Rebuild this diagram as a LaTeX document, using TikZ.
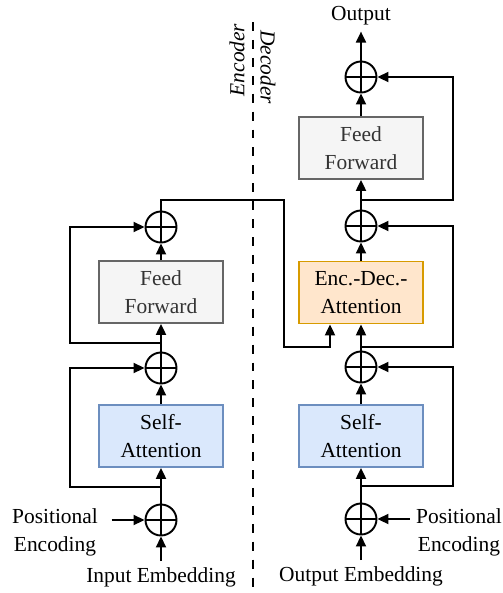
\documentclass[tikz,border=0pt]{standalone}
\usepackage{fontspec}
\setmainfont{Liberation Serif}
\usetikzlibrary{arrows.meta}

\definecolor{ffgray}{HTML}{F5F5F5}
\definecolor{ffedge}{HTML}{666666}
\definecolor{fftext}{HTML}{333333}
\definecolor{safill}{HTML}{DAE8FC}
\definecolor{saedge}{HTML}{6C8EBF}
\definecolor{edfill}{HTML}{FFE6CC}
\definecolor{ededge}{HTML}{D79B00}

\begin{document}
\begin{tikzpicture}[x=0.02cm, y=-0.02cm,
  every node/.style={font=\fontsize{12.2}{16}\selectfont},
  block/.style={draw, line width=1pt, minimum width=2.48cm, minimum height=1.24cm, align=center},
  ff/.style={block, fill=ffgray, draw=ffedge, text=fftext},
  sa/.style={block, fill=safill, draw=saedge},
  ed/.style={block, fill=edfill, draw=ededge},
  addop/.style={circle, draw, line width=1.1pt, minimum size=0.62cm, inner sep=0pt,
    path picture={\draw[line width=1pt] (path picture bounding box.north) -- (path picture bounding box.south)
      (path picture bounding box.west) -- (path picture bounding box.east);}},
  arr/.style={-{Triangle[length=0.22cm,width=0.2cm]}, line width=1.1pt},
  side/.style={font=\fontsize{12.2}{16}\selectfont\itshape}]
\useasboundingbox (0,0) rectangle (503,593);

% encoder
\node (inE) at (161,577) {Input Embedding};
\node[addop] (addE0) at (161,520) {};
\node[align=center] (posE) at (55,532) {Positional\\Encoding};
\node[sa] (saE) at (161,436) {Self-\\Attention};
\node[addop] (addE1) at (161,368) {};
\node[ff] (ffE) at (161,292) {Feed\\Forward};
\node[addop] (addE2) at (161,227) {};

% decoder
\node (outE) at (361,576) {Output Embedding};
\node[addop] (addD0) at (361,519) {};
\node[align=center] (posD) at (459,532) {Positional\\Encoding};
\node[sa] (saD) at (361,436) {Self-\\Attention};
\node[addop] (addD1) at (361,367) {};
\node[ed] (edD) at (361,292.5) {Enc.-Dec.-\\Attention};
\node[addop] (addD2) at (361,226) {};
\node[ff] (ffD) at (361,148) {Feed\\Forward};
\node[addop] (addD3) at (361,77) {};
\node (out) at (361,16) {Output};

% split
\coordinate (divTop) at (253,22);
\coordinate (divBot) at (253,593);
\draw[line width=1.7pt, dash pattern=on 5.1pt off 5.1pt] (divTop) -- (divBot);
\node[side, rotate=90] (encLbl) at (237,60) {Encoder};
\node[side, rotate=-90] (decLbl) at (268,67) {Decoder};

\coordinate (brE0) at (161,487);
\coordinate (brE1) at (161,343);
\coordinate (loopE) at (70,0);
\coordinate (encUp) at (161,200);
\coordinate (encX) at (284,347);
\coordinate (edIn) at (330,347);
\coordinate (brD0) at (361,486);
\coordinate (brD1) at (361,347);
\coordinate (brD2) at (361,200);
\coordinate (loopD) at (453,0);

\draw[arr] (inE) -- (addE0);
\draw[arr, shorten <=0.15cm] (posE.east |- addE0) -- (addE0);
\draw[arr] (addE0) -- (saE);
\draw[arr] (brE0) -- (brE0 -| loopE) |- (addE1);
\draw[arr] (saE) -- (addE1);
\draw[arr] (addE1) -- (ffE);
\draw[arr] (brE1) -- (brE1 -| loopE) |- (addE2);
\draw[arr] (ffE) -- (addE2);
\draw[arr] (addE2) -- (encUp) -| (encX) -- (edIn) -- (edIn |- edD.south);

\draw[arr] (outE) -- (addD0);
\draw[arr] (posD.west |- addD0) -- (addD0);
\draw[arr] (addD0) -- (saD);
\draw[arr] (brD0) -- (brD0 -| loopD) |- (addD1);
\draw[arr] (saD) -- (addD1);
\draw[arr] (addD1) -- (edD);
\draw[arr] (brD1) -- (brD1 -| loopD) |- (addD2);
\draw[arr] (edD) -- (addD2);
\draw[arr] (addD2) -- (ffD);
\draw[arr] (brD2) -- (brD2 -| loopD) |- (addD3);
\draw[arr] (ffD) -- (addD3);
\draw[arr] (addD3) -- (out);
\end{tikzpicture}
\end{document}
